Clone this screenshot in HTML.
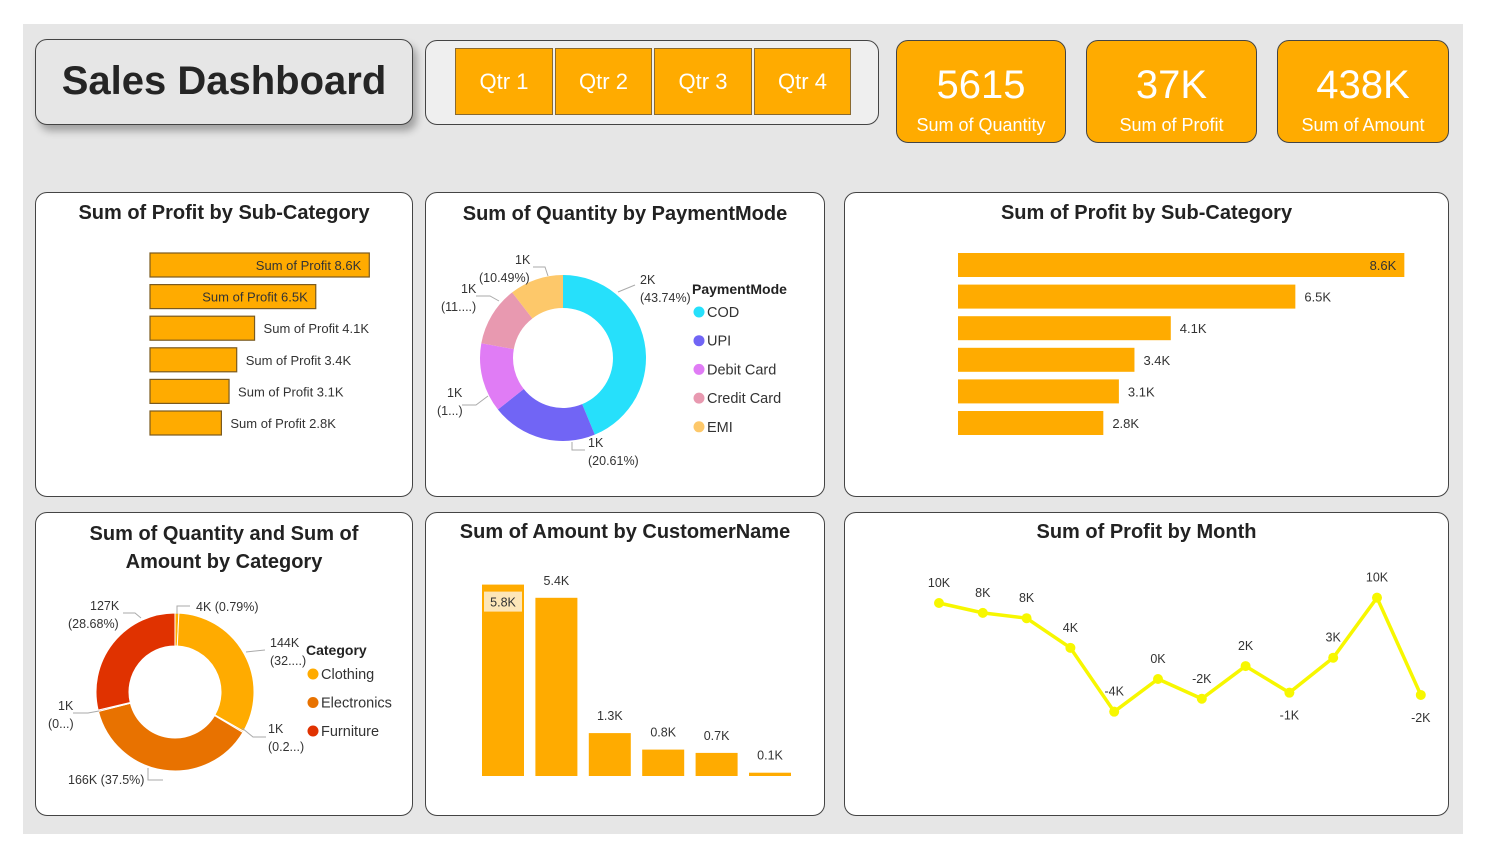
<!DOCTYPE html>
<html><head><meta charset="utf-8">
<style>
body{margin:0;width:1487px;height:856px;background:#fff;font-family:"Liberation Sans",sans-serif;position:relative;overflow:hidden}
#bg{position:absolute;left:23px;top:24px;width:1440px;height:810px;background:#e6e6e6}
.box{position:absolute;box-sizing:border-box;border:1.5px solid #444;border-radius:12px;background:#fff}
.ttl{position:absolute;left:0;right:0;text-align:center;font-weight:bold;font-size:20px;color:#222}
.q{position:absolute;top:48px;height:67px;background:#ffab00;border:1px solid #8a6a30;box-sizing:border-box;color:#fff;font-size:22px;display:flex;align-items:center;justify-content:center}
.kpi{position:absolute;top:40px;height:103px;background:#ffab00;border:1.5px solid #444;border-radius:12px;box-sizing:border-box;color:#fff;text-align:center}
.kpi .v{font-size:40px;margin-top:21px;line-height:46px}
.kpi .l{font-size:18px;line-height:22px;margin-top:6px}
svg{position:absolute;left:0;top:0}
svg text{font-family:"Liberation Sans",sans-serif}
</style></head><body>
<div id="bg"></div>
<div class="box" style="left:35px;top:39px;width:378px;height:86px;background:#e6e6e6;box-shadow:4px 6px 8px rgba(0,0,0,.3)"><div style="font-size:40px;font-weight:bold;color:#252525;text-align:center;line-height:82px">Sales Dashboard</div></div>
<div class="box" style="left:425px;top:40px;width:454px;height:85px;background:#efefef"></div>
<div class="q" style="left:455px;width:98px">Qtr 1</div>
<div class="q" style="left:555px;width:97px">Qtr 2</div>
<div class="q" style="left:654px;width:98px">Qtr 3</div>
<div class="q" style="left:754px;width:97px">Qtr 4</div>
<div class="kpi" style="left:896px;width:170px"><div class="v">5615</div><div class="l">Sum of Quantity</div></div>
<div class="kpi" style="left:1086px;width:171px"><div class="v">37K</div><div class="l">Sum of Profit</div></div>
<div class="kpi" style="left:1277px;width:172px"><div class="v">438K</div><div class="l">Sum of Amount</div></div>

<div class="box" style="left:35px;top:192px;width:378px;height:305px"><div class="ttl" style="top:9px">Sum of Profit by Sub-Category</div></div>
<div class="box" style="left:425px;top:192px;width:400px;height:305px"><div class="ttl" style="top:10px">Sum of Quantity by PaymentMode</div></div>
<div class="box" style="left:844px;top:192px;width:605px;height:305px"><div class="ttl" style="top:9px">Sum of Profit by Sub-Category</div></div>
<div class="box" style="left:35px;top:512px;width:378px;height:304px"><div class="ttl" style="top:7px;line-height:28px">Sum of Quantity and Sum of<br>Amount by Category</div></div>
<div class="box" style="left:425px;top:512px;width:400px;height:304px"><div class="ttl" style="top:8px">Sum of Amount by CustomerName</div></div>
<div class="box" style="left:844px;top:512px;width:605px;height:304px"><div class="ttl" style="top:8px">Sum of Profit by Month</div></div>

<svg id="s" width="1487" height="856"></svg>
<script>
const subcatProfit=[8.6,6.5,4.1,3.4,3.1,2.8];
const subcatLabels=["8.6K","6.5K","4.1K","3.4K","3.1K","2.8K"];
const payModes=["COD","UPI","Debit Card","Credit Card","EMI"];
const payPct=[43.74,20.61,13.5,11.66,10.49];
const catSlices=[0.79,32.5,0.27,37.5,0.26,28.68];
const catNames=["Clothing","Electronics","Furniture"];
const custAmount=[5.8,5.4,1.3,0.8,0.7,0.1];
const custLabels=["5.8K","5.4K","1.3K","0.8K","0.7K","0.1K"];
const monthProfit=[10.0,8.7,8.0,4.1,-4.3,0.0,-2.6,1.7,-1.8,2.8,10.7,-2.1];
const monthLabels=["10K","8K","8K","4K","-4K","0K","-2K","2K","-1K","3K","10K","-2K"];

const S=document.getElementById('s');const NS='http://www.w3.org/2000/svg';
function mk(t,a,txt){const e=document.createElementNS(NS,t);for(const k in a)e.setAttribute(k,a[k]);if(txt!==undefined)e.textContent=txt;S.appendChild(e);return e;}
const rowY=i=>265+i*31.6;

// chart 1
const x1=v=>v*25.5;
subcatProfit.forEach((v,i)=>{const w=x1(v),y=rowY(i);
 const b=mk('rect',{x:150,y:y-12,width:w,height:24,fill:'#ffab00',stroke:'#7a5a20','stroke-width':1.2});
 
 
 const inside=i<2;
 const t=mk('text',{x:inside?150+w-8:150+w+9,y:y+5,'font-size':13,fill:'#333','text-anchor':inside?'end':'start'},'Sum of Profit '+subcatLabels[i]);
 
 
});
// chart 3
const x3=v=>v*51.9;
subcatProfit.forEach((v,i)=>{const w=x3(v),y=rowY(i);
 const b=mk('rect',{x:958,y:y-12,width:w,height:24,fill:'#ffab00'});
 
 
 const inside=i<1;
 const t=mk('text',{x:inside?958+w-8:958+w+9,y:y+5,'font-size':13,fill:'#333','text-anchor':inside?'end':'start'},subcatLabels[i]);
 
 
});
function arc(cx,cy,R,r,a0,a1){const p=(a,rr)=>[cx+rr*Math.sin(a),cy-rr*Math.cos(a)];const l=a1-a0>Math.PI?1:0;
 const [x0,y0]=p(a0,R),[x1_,y1]=p(a1,R),[x2,y2]=p(a1,r),[x3_,y3]=p(a0,r);
 return `M${x0},${y0}A${R},${R} 0 ${l} 1 ${x1_},${y1}L${x2},${y2}A${r},${r} 0 ${l} 0 ${x3_},${y3}Z`;}
const payCol=['#26e0fb','#7165f5','#e07cf5','#e899b0','#fdc86a'];
let tot=payPct.reduce((a,b)=>a+b,0),a=0;
payPct.forEach((v,i)=>{const a1=a+v/tot*2*Math.PI;
 const p=mk('path',{d:arc(563,358,83,50,a,a1),fill:payCol[i]});
 
 a=a1;});
const pl=[[640,284,'2K'],[640,302,'(43.74%)'],[588,447,'1K'],[588,465,'(20.61%)'],[447,397,'1K'],[437,415,'(1...)'],[461,293,'1K'],[441,311,'(11....)'],[515,264,'1K'],[479,282,'(10.49%)']];
pl.forEach(d=>{const t=mk('text',{x:d[0],y:d[1],'font-size':12.5,fill:'#333'},d[2]);});
[[618,292,635,285],[572,442,572,450,585,450],[488,396,476,405,462,405],[499,301,490,296,476,296],[548,276,545,267,533,267]].forEach(p=>{let d='M'+p[0]+','+p[1];for(let k=2;k<p.length;k+=2)d+='L'+p[k]+','+p[k+1];mk('path',{d:d,stroke:'#aaa',fill:'none'});});
const lt=mk('text',{x:692,y:294,'font-size':14,'font-weight':'bold',fill:'#222'},'PaymentMode');
payModes.forEach((n,i)=>{const y=312+i*28.7;mk('circle',{cx:699,cy:y,r:5.5,fill:payCol[i]});
 const t=mk('text',{x:707,y:y+5,'font-size':14.5,fill:'#333'},n);});
const catCol=['#ffab00','#e87200','#e03200'];
const sliceCol=['#ffab00','#ffab00','#e87200','#e87200','#e03200','#e03200'];
tot=catSlices.reduce((a,b)=>a+b,0);a=0;
catSlices.forEach((v,i)=>{const a1=a+v/tot*2*Math.PI;
 const p=mk('path',{d:arc(175,692,79,46,a,a1),fill:sliceCol[i],stroke:'#fff','stroke-width':1});
 
 a=a1;});
const cl=[[196,611,'4K (0.79%)'],[270,647,'144K'],[270,665,'(32....)'],[268,733,'1K'],[268,751,'(0.2...)'],[68,784,'166K (37.5%)'],[58,710,'1K'],[48,728,'(0...)'],[90,610,'127K'],[68,628,'(28.68%)']];
cl.forEach(d=>{const t=mk('text',{x:d[0],y:d[1],'font-size':12.5,fill:'#333'},d[2]);});
[[177,614,177,606,190,606],[246,652,265,650],[242,728,253,737,266,737],[148,768,148,780,163,780],[99,711,88,713,73,713],[141,618,135,613,123,613]].forEach(p=>{let d='M'+p[0]+','+p[1];for(let k=2;k<p.length;k+=2)d+='L'+p[k]+','+p[k+1];mk('path',{d:d,stroke:'#aaa',fill:'none'});});
const ct=mk('text',{x:306,y:655,'font-size':14,'font-weight':'bold',fill:'#222'},'Category');
catNames.forEach((n,i)=>{const y=674+i*28.5;mk('circle',{cx:313,cy:y,r:5.5,fill:catCol[i]});
 const t=mk('text',{x:321,y:y+5,'font-size':14.5,fill:'#333'},n);});
const base=776,ys=v=>v*33,bx=i=>482+i*53.4;
custAmount.forEach((v,i)=>{const h=ys(v);
 const b=mk('rect',{x:bx(i),y:base-h,width:42,height:h,fill:'#ffab00'});
 
 
 if(i===0){mk('rect',{x:bx(i)+2,y:base-h+7,width:38,height:20,fill:'#fde6b8'});
  const t=mk('text',{x:bx(i)+21,y:base-h+22,'font-size':12.5,fill:'#333','text-anchor':'middle'},custLabels[i]);}
 else{const t=mk('text',{x:bx(i)+21,y:base-h-13,'font-size':12.5,fill:'#333','text-anchor':'middle'},custLabels[i]);}
});
const mx=i=>939+i*43.8,my=v=>679-v*7.6;
const below=[8,11];
const ln=mk('polyline',{points:monthProfit.map((v,i)=>mx(i)+','+my(v)).join(' '),fill:'none',stroke:'#f7f700','stroke-width':3.5,'stroke-linejoin':'round'});


monthProfit.forEach((v,i)=>{const c=mk('circle',{cx:mx(i),cy:my(v),r:5,fill:'#f7f700'});
 
 
 const b=below.includes(i);
 const t=mk('text',{x:mx(i),y:b?my(v)+27:my(v)-16,'font-size':12.5,fill:'#333','text-anchor':'middle'},monthLabels[i]);
 
 });
</script>
</body></html>
